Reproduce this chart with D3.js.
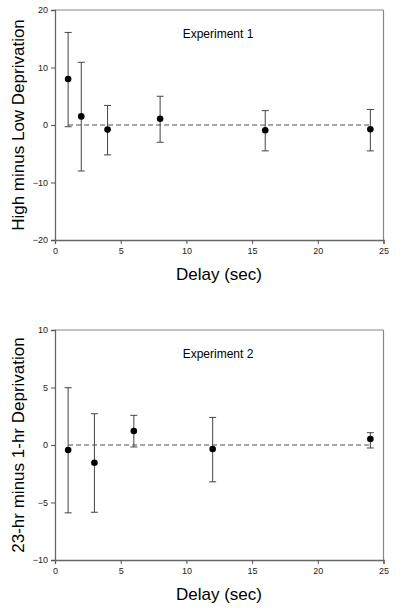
<!DOCTYPE html>
<html><head><meta charset="utf-8">
<script src="https://cdn.jsdelivr.net/npm/d3@7"></script>
<style>body{margin:0;background:#fff}svg{display:block}</style>
</head><body><svg id="c" width="400" height="611"></svg>
<script>
// Experiment 1
const delays1 = [1, 2, 4, 8, 16, 24];
const means1 = [8.0, 1.5, -0.8, 1.1, -0.9, -0.75];
const upper1 = [16.1, 10.9, 3.4, 5.0, 2.5, 2.7];
const lower1 = [-0.3, -8.0, -5.2, -3.0, -4.5, -4.5];
const yTicks1 = [-20, -10, 0, 10, 20];
// Experiment 2
const delays2 = [1, 3, 6, 12, 24];
const means2 = [-0.43, -1.54, 1.22, -0.35, 0.52];
const upper2 = [4.98, 2.72, 2.58, 2.4, 1.07];
const lower2 = [-5.9, -5.85, -0.17, -3.2, -0.26];
const yTicks2 = [-10, -5, 0, 5, 10];
const xTicks = [0, 5, 10, 15, 20, 25];

const svg = d3.select("#c");

function panel(o) {
  const g = svg.append("g");
  const x = d3.scaleLinear().domain([0, 25]).range([55, 383.5]);
  const y = d3.scaleLinear().domain(o.ydom).range([o.bottom, o.top]);
  // frame top & right
  g.append("line").attr("x1", 55).attr("x2", 383.5).attr("y1", o.top).attr("y2", o.top).attr("stroke", "#888").attr("stroke-width", 1.2);
  g.append("line").attr("x1", 383.5).attr("x2", 383.5).attr("y1", o.top).attr("y2", o.bottom).attr("stroke", "#888").attr("stroke-width", 1.2);
  // axes
  const ax = g.append("g").attr("transform", `translate(0,${o.bottom})`)
    .call(d3.axisBottom(x).tickValues(xTicks).tickSize(4).tickPadding(4));
  const ay = g.append("g").attr("transform", `translate(55,0)`)
    .call(d3.axisLeft(y).tickValues(o.yticks).tickSize(4).tickPadding(3));
  [ax, ay].forEach(a => {
    a.select(".domain").attr("stroke", "#666").attr("stroke-width", 1.3);
    a.selectAll(".tick line").attr("stroke", "#555");
    a.selectAll(".tick text").attr("font-family", "Liberation Sans, Arial, sans-serif").attr("font-size", 9).attr("fill", "#222");
  });
  // dashed zero line
  const d0 = d3.min(o.delays), d1 = d3.max(o.delays);
  g.append("line").attr("x1", x(d0)).attr("x2", x(d1)).attr("y1", y(0)).attr("y2", y(0))
    .attr("stroke", "#8c8c8c").attr("stroke-width", 1.4).attr("stroke-dasharray", "5,3");
  // error bars
  o.delays.forEach((d, i) => {
    const cx = x(d);
    g.append("line").attr("x1", cx).attr("x2", cx).attr("y1", y(o.upper[i])).attr("y2", y(o.lower[i])).attr("stroke", "#444").attr("stroke-width", 1);
    [o.upper[i], o.lower[i]].forEach(v => {
      g.append("line").attr("x1", cx - 3.5).attr("x2", cx + 3.5).attr("y1", y(v)).attr("y2", y(v)).attr("stroke", "#444").attr("stroke-width", 1);
    });
    g.append("circle").attr("cx", cx).attr("cy", y(o.means[i])).attr("r", 3.3).attr("fill", "#000");
  });
  g.append("text").attr("x", 218).attr("y", o.top + 28).attr("text-anchor", "middle")
    .attr("font-family", "Liberation Sans, Arial, sans-serif").attr("font-size", 12).text(o.title);
  g.append("text").attr("transform", `translate(24,${(o.top + o.bottom) / 2}) rotate(-90)`).attr("text-anchor", "middle")
    .attr("font-family", "Liberation Sans, Arial, sans-serif").attr("font-size", 17).text(o.ylabel);
  g.append("text").attr("x", 219).attr("y", o.bottom + 40).attr("text-anchor", "middle")
    .attr("font-family", "Liberation Sans, Arial, sans-serif").attr("font-size", 17).text("Delay (sec)");
}

panel({ top: 10, bottom: 240, ydom: [-20, 20], yticks: yTicks1, delays: delays1, means: means1, upper: upper1, lower: lower1,
  title: "Experiment 1", ylabel: "High minus Low Deprivation" });
panel({ top: 330, bottom: 560, ydom: [-10, 10], yticks: yTicks2, delays: delays2, means: means2, upper: upper2, lower: lower2,
  title: "Experiment 2", ylabel: "23-hr minus 1-hr Deprivation" });
</script></body></html>
